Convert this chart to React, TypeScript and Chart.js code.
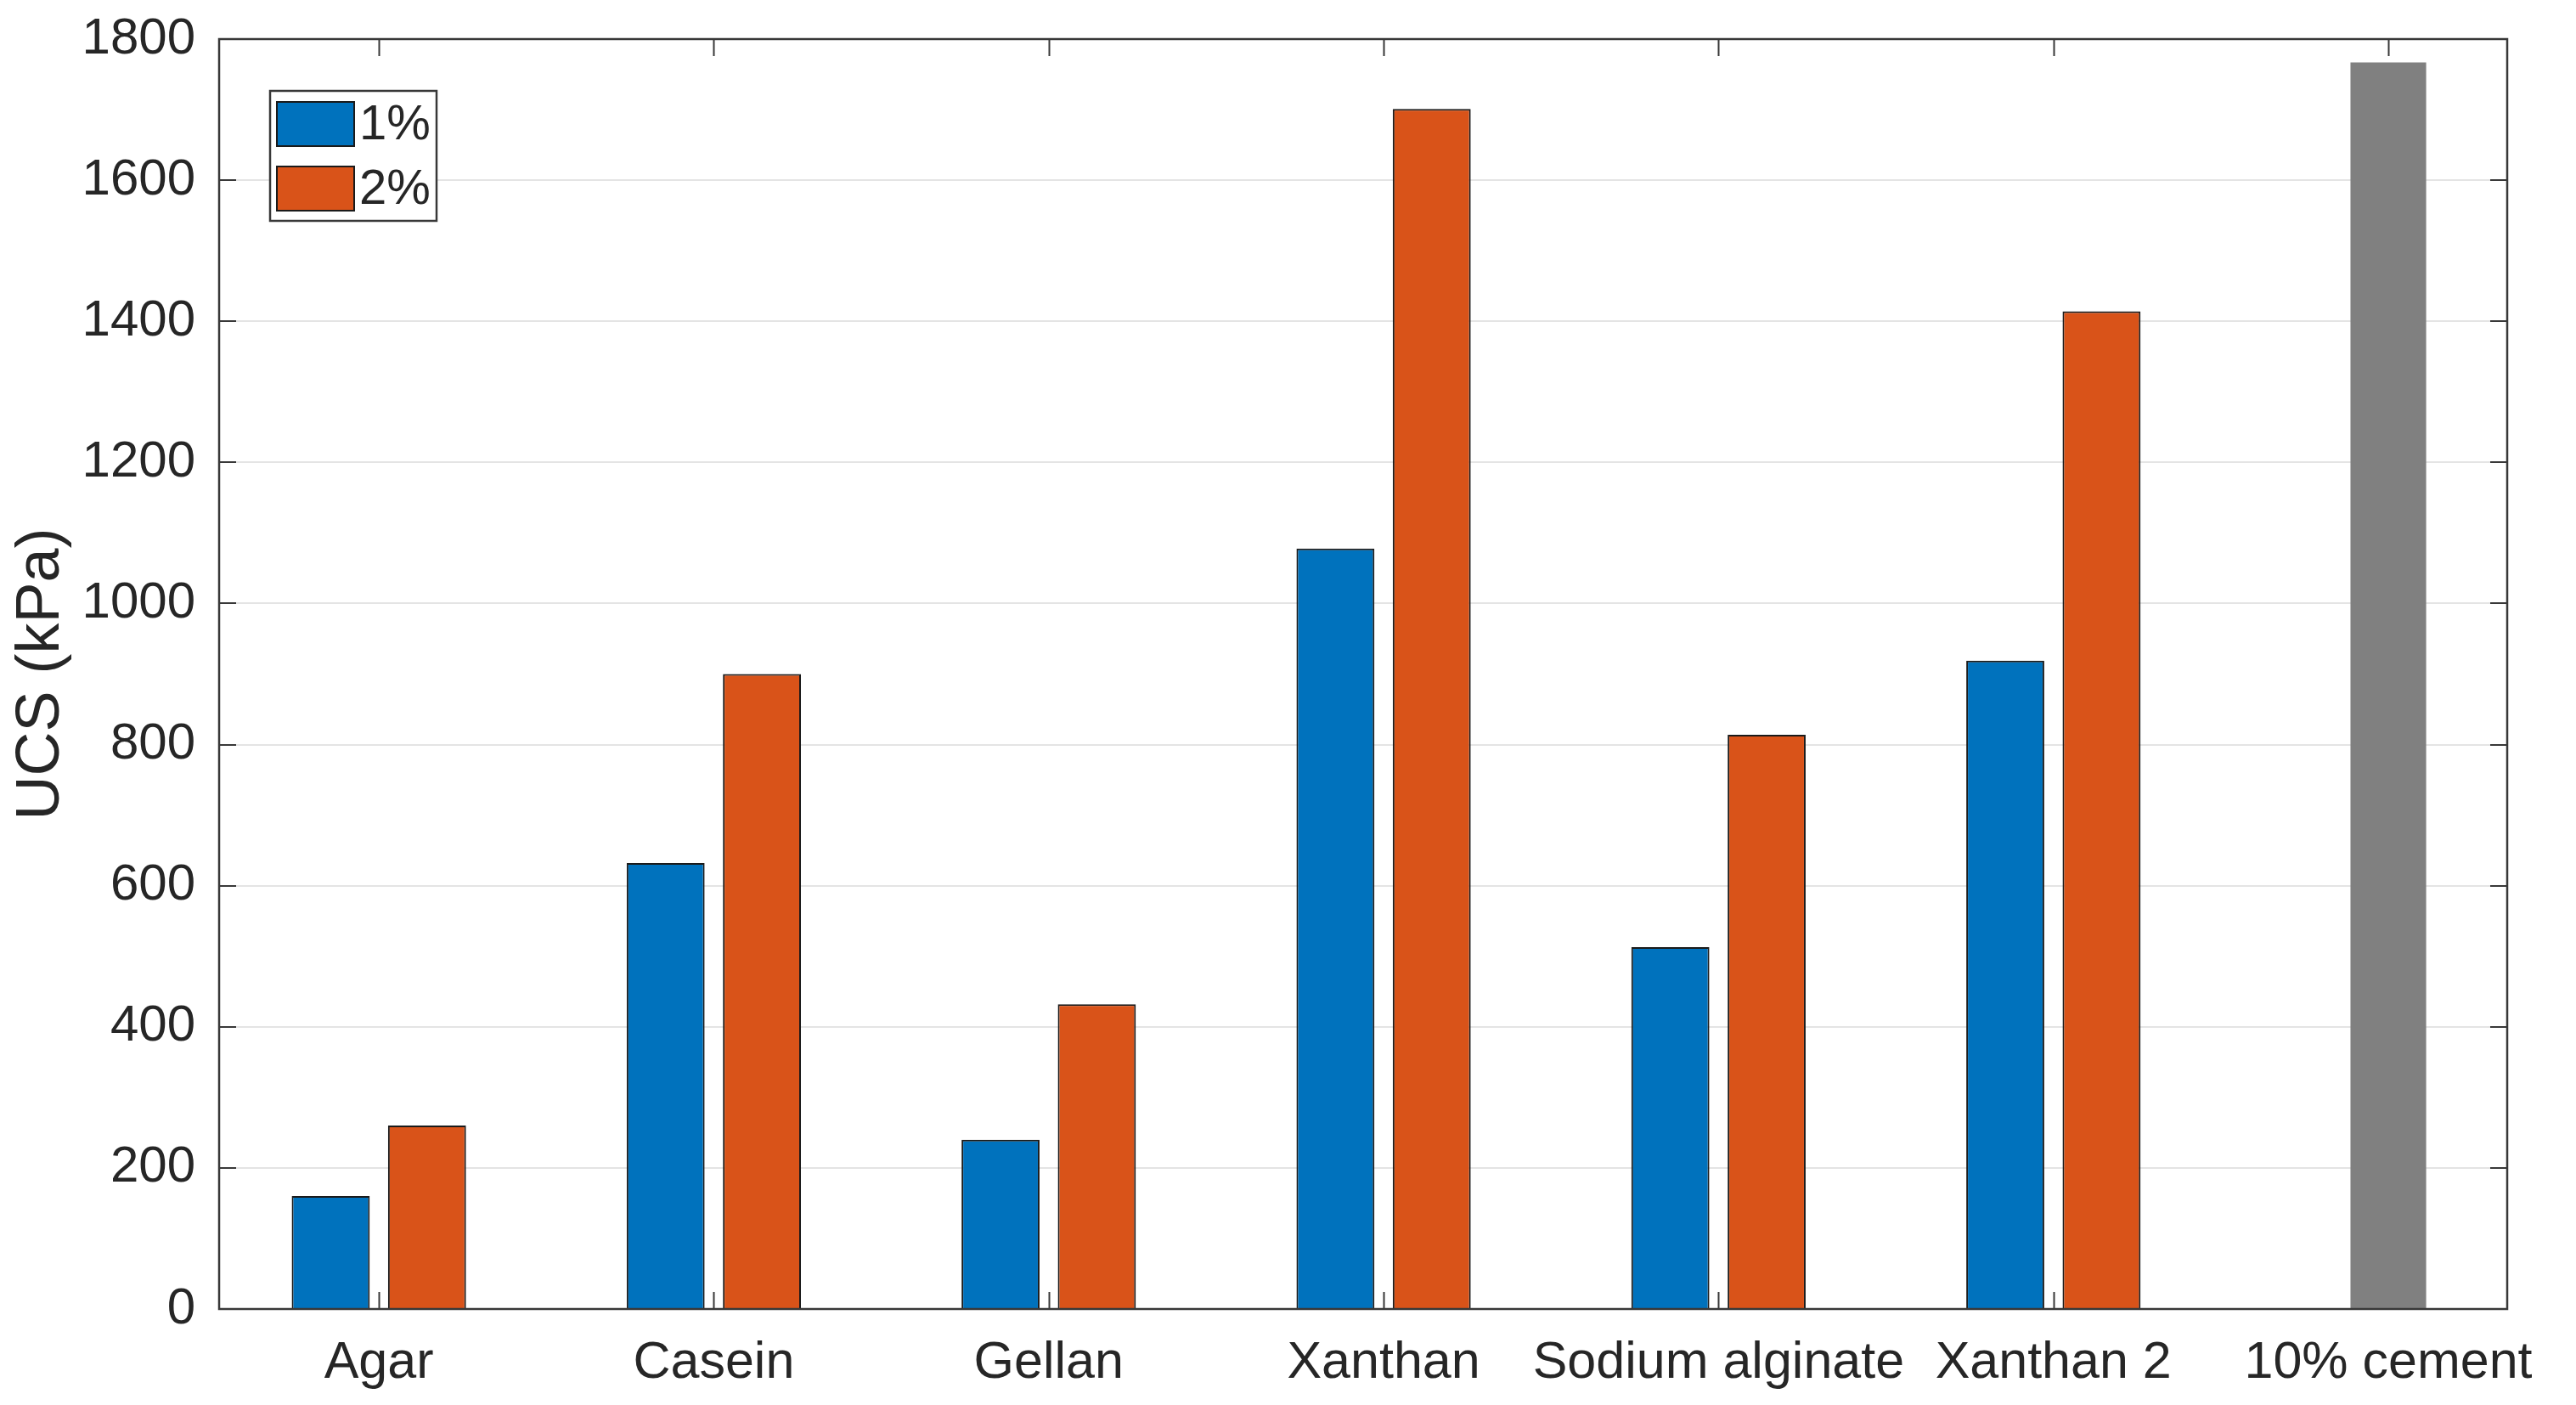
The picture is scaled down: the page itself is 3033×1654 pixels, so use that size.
import React, { useEffect, useRef } from 'react';
import { Chart, registerables } from 'chart.js';

Chart.register(...registerables);

// ---- data ----
const categories = ['Agar', 'Casein', 'Gellan', 'Xanthan', 'Sodium alginate', 'Xanthan 2', '10% cement'];
const seriesLabels = ['1%', '2%'];
const ucs1 = [160, 632, 240, 1078, 513, 919];
const ucs2 = [260, 900, 432, 1701, 814, 1414];
const cementCategory = '10% cement';
const cementValues = [1767];
const yTicks = [0, 200, 400, 600, 800, 1000, 1200, 1400, 1600, 1800];
const yTitle = 'UCS (kPa)';

// ---- styles ----
const BLUE = '#0072BD';
const ORANGE = '#D95319';
const GRAY = '#808080';
const AXIS = '#383838';
const TEXT = '#262626';
const FONT = '"Liberation Sans", Arial, Helvetica, sans-serif';

const toPoints = (vals: number[], offset = 0) => vals.map((v, i) => ({ x: i + 1 + offset, y: v }));

const matlabFrame = {
  id: 'matlabFrame',
  beforeDatasetsDraw(chart: any) {
    const { ctx, chartArea, scales } = chart;
    const { left, right, top, bottom } = chartArea;
    const x = scales.x;
    const y = scales.y;
    const tl = 20;
    ctx.save();
    ctx.strokeStyle = AXIS;
    ctx.lineWidth = 2;
    ctx.beginPath();
    categories.forEach((_, i) => {
      const px = Math.round(x.getPixelForValue(i + 1)) + 0.5;
      ctx.moveTo(px, bottom);
      ctx.lineTo(px, bottom - tl);
      ctx.moveTo(px, top);
      ctx.lineTo(px, top + tl);
    });
    yTicks.forEach((v) => {
      const py = Math.round(y.getPixelForValue(v));
      ctx.moveTo(left, py);
      ctx.lineTo(left + tl, py);
      ctx.moveTo(right, py);
      ctx.lineTo(right - tl, py);
    });
    ctx.stroke();
    ctx.restore();
  },
  afterDatasetsDraw(chart: any) {
    const { ctx, chartArea } = chart;
    const { left, right, top, bottom } = chartArea;
    ctx.save();
    ctx.strokeStyle = AXIS;
    ctx.lineWidth = 2.5;
    ctx.strokeRect(left, top, right - left, bottom - top);

    // legend box
    const bx = left + 60;
    const by = top + 61;
    const bw = 196;
    const bh = 153;
    ctx.fillStyle = '#ffffff';
    ctx.fillRect(bx, by, bw, bh);
    ctx.lineWidth = 2.5;
    ctx.strokeStyle = AXIS;
    ctx.strokeRect(bx, by, bw, bh);
    const colors = [BLUE, ORANGE];
    seriesLabels.forEach((lab, i) => {
      const sy = by + 13 + i * 76;
      ctx.fillStyle = colors[i];
      ctx.fillRect(bx + 8, sy, 91, 52);
      ctx.lineWidth = 2;
      ctx.strokeStyle = '#1a1a1a';
      ctx.strokeRect(bx + 8, sy, 91, 52);
      ctx.fillStyle = TEXT;
      ctx.font = `58px ${FONT}`;
      ctx.textBaseline = 'middle';
      ctx.textAlign = 'left';
      ctx.fillText(lab, bx + 105, sy + 28);
    });
    ctx.restore();
  },
};

export default function App() {
  const ref = useRef<HTMLCanvasElement | null>(null);

  useEffect(() => {
    if (!ref.current) return;
    const cementIndex = categories.indexOf(cementCategory);
    const chart = new Chart(ref.current, {
      type: 'bar',
      data: {
        datasets: [
          {
            label: seriesLabels[0],
            data: toPoints(ucs1),
            backgroundColor: BLUE,
            borderColor: '#1a1a1a',
            borderWidth: 2,
            categoryPercentage: 0.575,
            barPercentage: 0.81,
          },
          {
            label: seriesLabels[1],
            data: toPoints(ucs2),
            backgroundColor: ORANGE,
            borderColor: '#1a1a1a',
            borderWidth: 2,
            categoryPercentage: 0.575,
            barPercentage: 0.81,
          },
          {
            label: cementCategory,
            data: toPoints(cementValues, cementIndex),
            backgroundColor: GRAY,
            borderWidth: 0,
            grouped: false,
            categoryPercentage: 0.575,
            barPercentage: 0.393,
          } as any,
        ],
      },
      options: {
        animation: false,
        responsive: true,
        maintainAspectRatio: false,
        devicePixelRatio: 1,
        layout: { padding: { top: 46, right: 81, left: 0, bottom: 0 } },
        plugins: {
          legend: { display: false },
          tooltip: { enabled: false },
        },
        scales: {
          x: {
            type: 'linear',
            offset: false,
            min: 0.523,
            max: 7.355,
            afterBuildTicks: (axis: any) => {
              axis.ticks = categories.map((_, i) => ({ value: i + 1 }));
            },
            afterFit: (axis: any) => {
              axis.height = 113;
              axis.paddingLeft = 0;
              axis.paddingRight = 0;
            },
            grid: { display: false, drawTicks: false, offset: false },
            border: { display: false },
            ticks: {
              autoSkip: false,
              maxRotation: 0,
              padding: 28,
              color: TEXT,
              font: { family: FONT, size: 61 },
              callback: (v: any) => categories[Math.round(Number(v)) - 1] ?? '',
            },
          },
          y: {
            min: 0,
            max: 1800,
            afterBuildTicks: (axis: any) => {
              axis.ticks = yTicks.map((v) => ({ value: v }));
            },
            afterFit: (axis: any) => {
              axis.width = 258;
              axis.paddingTop = 0;
              axis.paddingBottom = 0;
            },
            grid: { color: '#e4e4e4', lineWidth: 2, drawTicks: false },
            border: { display: false },
            ticks: {
              padding: 28,
              color: TEXT,
              font: { family: FONT, size: 60 },
              callback: (v: any) => String(v),
            },
            title: {
              display: true,
              text: yTitle,
              color: TEXT,
              padding: { top: 6, bottom: 0 },
              font: { family: FONT, size: 72, lineHeight: 1.2 },
            },
          },
        },
      },
      plugins: [matlabFrame],
    } as any);
    return () => chart.destroy();
  }, []);

  return (
    <div style={{ position: 'absolute', left: 0, top: 0, width: 3033, height: 1654, background: '#fff' }}>
      <canvas ref={ref} />
    </div>
  );
}
